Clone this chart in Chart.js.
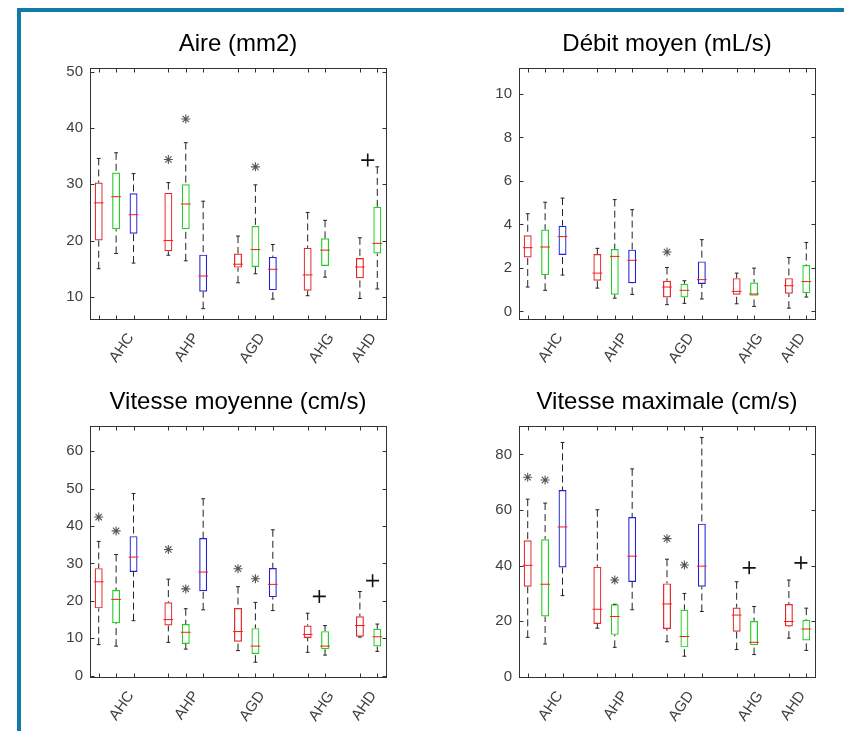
<!DOCTYPE html>
<html>
<head>
<meta charset="utf-8">
<title>Boxplots</title>
<script src="https://cdn.jsdelivr.net/npm/chart.js@4.4.1/dist/chart.umd.min.js"></script>
<style>
  body { margin: 0; width: 844px; height: 731px; overflow: hidden; background: #fff; position: relative; }
  .frame-top { position: absolute; left: 17px; top: 8px; width: 827px; height: 4px; background: #117aa8; }
  .frame-left { position: absolute; left: 17px; top: 8px; width: 4px; height: 723px; background: #117aa8; }
  canvas { position: absolute; }
</style>
</head>
<body>
<div class="frame-top"></div>
<div class="frame-left"></div>
<canvas id="c1" width="366" height="356" style="left:40px;top:18px"></canvas>
<canvas id="c2" width="366" height="356" style="left:469px;top:18px"></canvas>
<canvas id="c3" width="366" height="356" style="left:40px;top:376px"></canvas>
<canvas id="c4" width="366" height="356" style="left:469px;top:376px"></canvas>
<script>
'use strict';

const categories = ['AHC', 'AHP', 'AGD', 'AHG', 'AHD'];
// slot of the first box in each group (boxes sit one slot apart)
const groupStart = [1, 5, 9, 13, 16];
// where the rotated group names sit on the x axis
const labelPos = [2.85, 6.58, 10.37, 14.34, 16.77];

// one box = [lower whisker, q1, median, q3, upper whisker]
// Aire (mm2)
const aireRed = [[15.0, 20.0, 26.7, 30.3, 34.6], [17.4, 18.1, 20.0, 28.5, 30.3], [12.5, 15.2, 15.8, 17.7, 20.8], [10.2, 11.1, 13.9, 18.7, 25.0], [9.7, 13.3, 15.3, 16.9, 20.5]];
const aireGreen = [[17.7, 22.0, 27.8, 32.1, 35.6], [16.4, 22.0, 26.5, 30.0, 37.4], [14.1, 15.3, 18.4, 22.6, 29.9], [13.5, 15.5, 18.3, 20.4, 23.6], [11.4, 17.7, 19.5, 26.0, 33.1]];
const aireBlue = [[16.0, 21.2, 24.6, 28.4, 31.9], [7.9, 10.9, 13.7, 17.5, 27.0], [9.6, 11.2, 14.9, 17.1, 19.3], null, null];
const aireStars = [[0, 1, 34.4], [1, 1, 41.6], [1, 2, 33.1]]; // [series, group, value]
const airePlus = [[16.45, 34.3]];                              // [x, value]
const aireTicks = [10, 20, 30, 40, 50];
const aireRange = [6.1, 50.7];

// Débit moyen (mL/s)
const debitRed = [[1.12, 2.48, 2.93, 3.50, 4.49], [1.07, 1.41, 1.76, 2.64, 2.90], [0.31, 0.64, 1.12, 1.41, 2.02], [0.35, 0.77, 0.92, 1.53, 1.76], [0.15, 0.81, 1.18, 1.53, 2.48]];
const debitGreen = [[0.97, 1.67, 2.96, 3.76, 5.02], [0.61, 0.77, 2.53, 2.87, 5.14], [0.37, 0.64, 0.97, 1.27, 1.41], [0.23, 0.72, 0.80, 1.33, 1.99], [0.66, 0.84, 1.37, 2.13, 3.17]];
const debitBlue = [[1.67, 2.59, 3.44, 3.94, 5.21], [0.78, 1.30, 2.35, 2.84, 4.68], [0.57, 1.26, 1.46, 2.30, 3.30], null, null];
const debitStars = [[0, 2, 2.73]];
const debitPlus = [];
const debitTicks = [0, 2, 4, 6, 8, 10];
const debitRange = [-0.34, 11.2];

// Vitesse moyenne (cm/s)
const vmRed = [[8.3, 18.0, 25.1, 28.75, 35.9], [8.9, 13.4, 15.0, 19.6, 25.8], [6.7, 9.1, 11.8, 18.1, 23.8], [6.25, 10.1, 11.0, 13.4, 16.7], [10.3, 10.4, 13.4, 15.9, 22.5]];
const vmGreen = [[7.9, 14.0, 20.4, 22.9, 32.4], [7.1, 8.5, 11.6, 13.8, 17.9], [3.6, 5.8, 7.9, 12.7, 19.6], [5.5, 7.1, 7.9, 11.9, 13.4], [6.5, 7.8, 10.4, 12.5, 13.8]];
const vmBlue = [[14.7, 27.7, 31.7, 37.3, 48.7], [17.6, 22.6, 27.7, 36.8, 47.3], [17.4, 21.0, 24.4, 28.8, 39.0], null, null];
const vmStars = [[0, 0, 42.4], [1, 0, 38.7], [0, 1, 33.75], [1, 1, 23.2], [0, 2, 28.6], [1, 2, 25.9]];
const vmPlus = [[13.67, 21.2], [16.73, 25.4]];
const vmTicks = [0, 10, 20, 30, 40, 50, 60];
const vmRange = [-0.3, 66.8];

// Vitesse maximale (cm/s)
const vmaxRed = [[14.2, 32.4, 40.1, 49.1, 63.9], [17.5, 19.0, 24.3, 39.6, 60.1], [12.6, 17.2, 26.2, 33.6, 42.3], [9.8, 16.2, 22.2, 24.9, 34.2], [13.9, 18.1, 19.9, 26.2, 34.8]];
const vmaxGreen = [[11.8, 21.7, 33.3, 49.5, 62.5], [10.6, 15.1, 21.7, 26.1, 26.1], [7.4, 10.6, 14.5, 24.1, 30.0], [8.0, 11.4, 12.4, 20.1, 25.3], [9.5, 13.1, 17.2, 20.5, 24.7]];
const vmaxBlue = [[29.2, 39.3, 53.9, 67.2, 84.3], [24.1, 34.1, 43.4, 57.5, 74.8], [23.5, 32.4, 39.8, 55.1, 86.1], null, null];
const vmaxStars = [[0, 0, 71.8], [1, 0, 70.8], [1, 1, 34.8], [0, 2, 49.7], [1, 2, 40.2]];
const vmaxPlus = [[13.72, 39.2], [16.69, 41.0]];
const vmaxTicks = [0, 20, 40, 60, 80];
const vmaxRange = [0, 90.3];

const seriesColors = ['#e3262a', '#22cf22', '#2222d4'];
const medianColor = '#ff1a1a';
const fontFamily = "'Liberation Sans', Arial, Helvetica, sans-serif";

// box outline + inward tick marks like a matlab axes
const axesBox = {
  id: 'axesBox',
  afterDatasetsDraw(chart, args, opts) {
    const ctx = chart.ctx;
    const a = chart.chartArea;
    const x = chart.scales.x;
    const y = chart.scales.y;
    const l = Math.round(a.left) + 0.5, r = Math.round(a.right) + 0.5;
    const t = Math.round(a.top) + 0.5, b = Math.round(a.bottom) + 0.5;
    ctx.save();
    ctx.strokeStyle = '#333';
    ctx.lineWidth = 1;
    ctx.strokeRect(l, t, r - l, b - t);
    ctx.beginPath();
    y.ticks.forEach(tk => {
      const py = Math.round(y.getPixelForValue(tk.value)) + 0.5;
      ctx.moveTo(l, py); ctx.lineTo(l + 4, py);
      ctx.moveTo(r, py); ctx.lineTo(r - 4, py);
    });
    opts.slots.forEach(s => {
      const px = Math.round(x.getPixelForValue(s)) + 0.5;
      ctx.moveTo(px, b); ctx.lineTo(px, b - 4);
      ctx.moveTo(px, t); ctx.lineTo(px, t + 4);
    });
    ctx.stroke();
    ctx.restore();
  }
};

function makePanel(id, title, series, stars, plus, yTicks, yRange) {
  let boxes = [];
  for (let s = 0; s < series.length; s++) {
    for (let c = 0; c < categories.length; c++) {
      if (series[s][c]) {
        boxes.push({x: groupStart[c] + s, s: s, v: series[s][c]});
      }
    }
  }
  boxes.sort((p, q) => p.x - q.x);

  let datasets = [];
  for (let s = 0; s < series.length; s++) {
    datasets.push({
      type: 'bar',
      data: boxes.filter(b => b.s === s).map(b => ({x: b.x, y: [b.v[1], b.v[3]]})),
      backgroundColor: 'rgba(0,0,0,0)',
      borderColor: seriesColors[s],
      borderWidth: 1.2,
      borderSkipped: false,
      grouped: false,
      barPercentage: 0.57,
      order: 3
    });
  }

  let whiskers = [];
  let caps = [];
  let medians = [];
  boxes.forEach(b => {
    whiskers.push({x: b.x, y: b.v[4]}, {x: b.x, y: b.v[3]}, {x: b.x, y: null});
    whiskers.push({x: b.x, y: b.v[0]}, {x: b.x, y: b.v[1]}, {x: b.x, y: null});
    caps.push({x: b.x - 0.11, y: b.v[4]}, {x: b.x + 0.11, y: b.v[4]}, {x: b.x + 0.11, y: null});
    caps.push({x: b.x - 0.11, y: b.v[0]}, {x: b.x + 0.11, y: b.v[0]}, {x: b.x + 0.11, y: null});
    medians.push({x: b.x - 0.28, y: b.v[2]}, {x: b.x + 0.28, y: b.v[2]}, {x: b.x + 0.28, y: null});
  });

  const lineBase = {type: 'line', pointRadius: 0, borderWidth: 1, spanGaps: false, fill: false, tension: 0};
  datasets.push(Object.assign({}, lineBase, {data: whiskers, borderColor: '#222', borderDash: [7, 4], order: 2}));
  datasets.push(Object.assign({}, lineBase, {data: caps, borderColor: '#222', order: 2}));
  datasets.push(Object.assign({}, lineBase, {data: medians, borderColor: medianColor, order: 1}));

  datasets.push({
    type: 'scatter',
    data: stars.map(o => ({x: groupStart[o[1]] + o[0], y: o[2]})),
    pointStyle: 'star',
    pointRadius: 4.5,
    borderWidth: 1.1,
    borderColor: '#555',
    backgroundColor: '#555',
    order: 0
  });
  datasets.push({
    type: 'scatter',
    data: plus.map(o => ({x: o[0], y: o[1]})),
    pointStyle: 'cross',
    pointRadius: 6.5,
    borderWidth: 1.6,
    borderColor: '#111',
    backgroundColor: '#111',
    order: 0
  });

  const tickFont = {family: fontFamily, size: 15};

  new Chart(document.getElementById(id), {
    type: 'bar',
    data: {datasets: datasets},
    options: {
      responsive: false,
      animation: false,
      events: [],
      layout: {padding: {left: 0, right: 20, top: 0, bottom: 0}},
      plugins: {
        legend: {display: false},
        tooltip: {enabled: false},
        title: {
          display: true,
          text: title,
          fullSize: false,
          color: '#000',
          font: {family: fontFamily, size: 24, weight: 'normal'},
          padding: {top: 12, bottom: 9}
        },
        axesBox: {slots: boxes.map(b => b.x)}
      },
      scales: {
        x: {
          type: 'linear',
          min: 0.5,
          max: 17.5,
          bounds: 'data',
          offset: false,
          grid: {display: false, drawTicks: false, offset: false},
          border: {display: false},
          ticks: {
            autoSkip: false,
            minRotation: 55,
            maxRotation: 55,
            padding: 11,
            color: '#404040',
            font: tickFont,
            callback: (v, i) => categories[i]
          },
          afterBuildTicks: s => { s.ticks = labelPos.map(v => ({value: v})); },
          afterFit: s => { s.height = 55.2; s.paddingLeft = 0; s.paddingRight = 0; }
        },
        y: {
          type: 'linear',
          min: yRange[0],
          max: yRange[1],
          bounds: 'data',
          beginAtZero: false,
          grid: {display: false, drawTicks: false},
          border: {display: false},
          ticks: {padding: 7, color: '#404040', font: tickFont},
          afterBuildTicks: s => { s.ticks = yTicks.map(v => ({value: v})); },
          afterFit: s => { s.width = 50; s.paddingTop = 0; s.paddingBottom = 0; }
        }
      }
    },
    plugins: [axesBox]
  });
}

makePanel('c1', 'Aire (mm2)', [aireRed, aireGreen, aireBlue], aireStars, airePlus, aireTicks, aireRange);
makePanel('c2', 'Débit moyen (mL/s)', [debitRed, debitGreen, debitBlue], debitStars, debitPlus, debitTicks, debitRange);
makePanel('c3', 'Vitesse moyenne (cm/s)', [vmRed, vmGreen, vmBlue], vmStars, vmPlus, vmTicks, vmRange);
makePanel('c4', 'Vitesse maximale (cm/s)', [vmaxRed, vmaxGreen, vmaxBlue], vmaxStars, vmaxPlus, vmaxTicks, vmaxRange);
</script>
</body>
</html>
